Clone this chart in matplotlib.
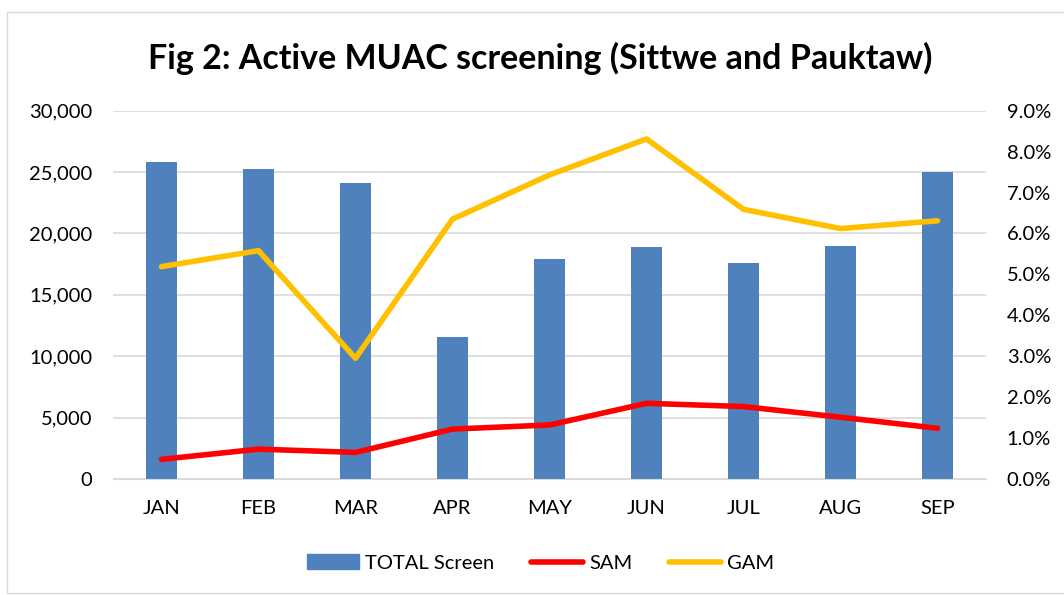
import numpy as np
import matplotlib
matplotlib.use("Agg")
import matplotlib.pyplot as plt
from matplotlib.ticker import FuncFormatter, PercentFormatter
from matplotlib.patches import Rectangle
from matplotlib.lines import Line2D

months = ["JAN", "FEB", "MAR", "APR", "MAY", "JUN", "JUL", "AUG", "SEP"]
total_screen = [25800, 25230, 24140, 11590, 17900, 18900, 17600, 18980, 25000]
sam = [0.48, 0.73, 0.65, 1.22, 1.32, 1.85, 1.77, 1.51, 1.24]
gam = [5.19, 5.58, 2.95, 6.35, 7.43, 8.31, 6.59, 6.12, 6.31]

plt.rcParams['font.family'] = ['Lato', 'DejaVu Sans']

fig = plt.figure(figsize=(10.64, 5.95), dpi=100)
ax = fig.add_axes([113 / 1064, 1 - 479 / 595, 873 / 1064, 368.3 / 595])
ax2 = ax.twinx()

x = np.arange(len(months))
ax.bar(x, total_screen, width=0.31, color="#4f81bd", zorder=2)
ax2.plot(x, sam, color="#ff0000", lw=4, solid_capstyle="round", zorder=3)
ax2.plot(x, gam, color="#ffc000", lw=4, solid_capstyle="round", zorder=3)

ax.set_xlim(-0.5, len(months) - 0.5)
ax.set_ylim(0, 30000)
ax.set_yticks(np.arange(0, 30001, 5000))
ax.yaxis.set_major_formatter(FuncFormatter(lambda v, p: f"{int(v):,}"))
ax2.set_ylim(0, 9)
ax2.set_yticks(np.arange(0, 9.1, 1))
ax2.yaxis.set_major_formatter(PercentFormatter(decimals=1))

ax.set_xticks(x)
ax.set_xticklabels(months)
ax.grid(axis="y", color="#d9d9d9", lw=1.2, zorder=0)
ax.set_axisbelow(True)

for a in (ax, ax2):
    for s in a.spines.values():
        s.set_visible(False)
    a.tick_params(length=0, labelsize=14.5, colors="#000000")
ax.spines["bottom"].set_visible(True)
ax.spines["bottom"].set_color("#d9d9d9")
ax.tick_params(axis="y", pad=15)
ax.tick_params(axis="x", pad=15)
ax2.tick_params(axis="y", pad=15)

fig.text(0.508, 1 - 58 / 595, "Fig 2: Active MUAC screening (Sittwe and Pauktaw)",
         ha="center", va="center", fontsize=24.5, fontweight="bold")

handles = [Rectangle((0, 0), 1, 1, color="#4f81bd"),
           Line2D([0], [0], color="#ff0000", lw=4, solid_capstyle="round"),
           Line2D([0], [0], color="#ffc000", lw=4, solid_capstyle="round")]
fig.legend(handles, ["TOTAL Screen", "SAM", "GAM"], loc="center",
           bbox_to_anchor=(0.508, 1 - 563 / 595), ncol=3, frameon=False,
           fontsize=14.5, handlelength=2.6, columnspacing=1.8, handletextpad=0.3)

fig.patches.append(Rectangle((7 / 1064, 2 / 595), 1.1, 1 - 14 / 595,
                             transform=fig.transFigure, fill=False,
                             edgecolor="#d9d9d9", lw=1))

fig.savefig("out.png", dpi=100)
